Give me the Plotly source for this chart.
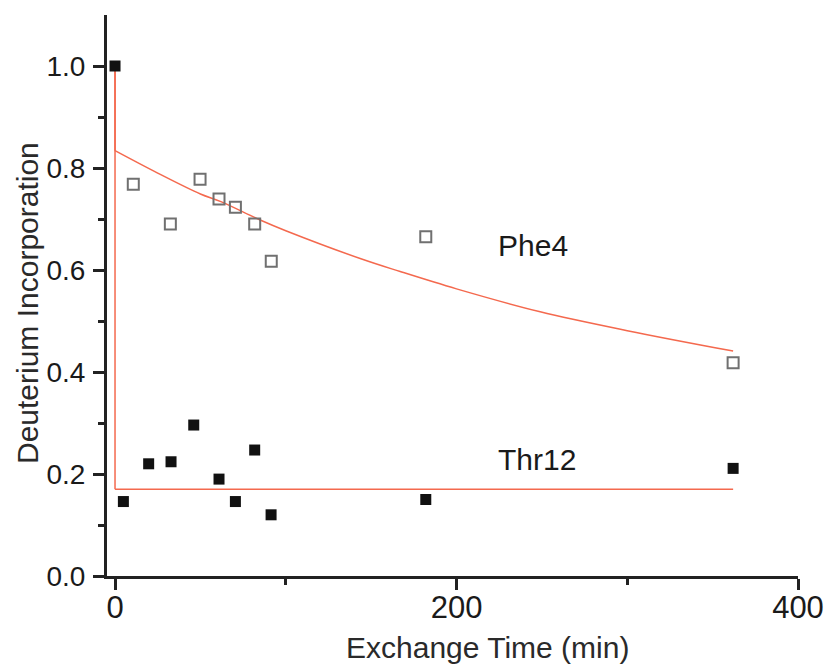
import plotly.graph_objects as go

# Shared starting point (t = 0, fully deuterated)
start_t = 0
start_v = 1.0

# Phe4 amide: exchange time (min) and deuterium incorporation
phe4_t = [10.7, 32.4, 49.8, 60.9, 70.5, 81.8, 91.5, 182, 362]
phe4_v = [0.768, 0.690, 0.778, 0.739, 0.723, 0.690, 0.617, 0.665, 0.418]

# Thr12 amide
thr12_t = [4.9, 19.7, 32.8, 46.1, 60.9, 70.5, 81.8, 91.4, 182, 362]
thr12_v = [0.146, 0.220, 0.224, 0.296, 0.190, 0.146, 0.247, 0.120, 0.150, 0.211]

# Fitted exchange curves
phe4_fit_t = [0, 25, 50, 62, 85, 100, 144, 167, 200, 249, 300, 362]
phe4_fit_v = [0.834, 0.790, 0.749, 0.734, 0.698, 0.677, 0.622, 0.597, 0.563, 0.518, 0.481, 0.441]
thr12_fit_t = [0, 362]
thr12_fit_v = [0.170, 0.170]

# Curve labels
labels = ["Phe4", "Thr12"]
label_t = [245, 247]
label_v = [0.648, 0.229]

FIT_COLOR = "#f4694e"
FONT = "Liberation Sans, Arial, sans-serif"

fig = go.Figure()

# burst phase: instantaneous drop at t = 0
for fv in (phe4_fit_v[0], thr12_fit_v[0]):
    fig.add_trace(go.Scatter(x=[start_t, start_t], y=[start_v, fv], mode="lines",
                             line=dict(color=FIT_COLOR, width=1.5), hoverinfo="skip"))

fig.add_trace(go.Scatter(x=phe4_fit_t, y=phe4_fit_v, mode="lines",
                         line=dict(color=FIT_COLOR, width=1.5, shape="spline"),
                         name="Phe4 fit"))
fig.add_trace(go.Scatter(x=thr12_fit_t, y=thr12_fit_v, mode="lines",
                         line=dict(color=FIT_COLOR, width=1.5), name="Thr12 fit"))

fig.add_trace(go.Scatter(x=phe4_t, y=phe4_v, mode="markers", name="Phe4",
                         marker=dict(symbol="square-open", size=11, color="#707070",
                                     line=dict(width=2, color="#707070"))))
fig.add_trace(go.Scatter(x=[start_t] + thr12_t, y=[start_v] + thr12_v, mode="markers",
                         name="Thr12",
                         marker=dict(symbol="square", size=11, color="#111111",
                                     line=dict(width=0))))

for txt, tx, ty in zip(labels, label_t, label_v):
    fig.add_annotation(x=tx, y=ty, text=txt, showarrow=False,
                       xanchor="center", yanchor="middle",
                       font=dict(family=FONT, size=30, color="#1a1a1a"))

# axis titles
fig.add_annotation(xref="paper", yref="paper", x=0.55, y=-0.128,
                   xanchor="center", yanchor="middle",
                   text="Exchange Time (min)", showarrow=False,
                   font=dict(family=FONT, size=30, color="#2a2a2a"))
fig.add_annotation(xref="paper", yref="paper", x=-0.114, y=0.487,
                   xanchor="center", yanchor="middle",
                   text="Deuterium Incorporation", showarrow=False, textangle=-90,
                   font=dict(family=FONT, size=30, color="#2a2a2a"))

axis_common = dict(
    showgrid=False, zeroline=False, showline=True, linecolor="#222222", linewidth=3,
    ticks="outside", ticklen=11, tickwidth=2.5, tickcolor="#222222", automargin=False,
)

fig.update_xaxes(range=[-4.7, 400], tickvals=[0, 200, 400], ticklabelstandoff=-9,
                 tickfont=dict(family=FONT, size=31, color="#1a1a1a"),
                 minor=dict(tickvals=[100, 300], ticks="outside", ticklen=6,
                            tickwidth=2.5, tickcolor="#222222"),
                 **axis_common)
fig.update_yaxes(range=[0, 1.1], tickvals=[0, 0.2, 0.4, 0.6, 0.8, 1.0],
                 ticktext=["0.0", "0.2", "0.4", "0.6", "0.8", "1.0"], ticklabelstandoff=2,
                 tickfont=dict(family=FONT, size=28, color="#1a1a1a"),
                 minor=dict(tickvals=[0.1, 0.3, 0.5, 0.7, 0.9], ticks="outside",
                            ticklen=6, tickwidth=2.5, tickcolor="#222222"),
                 **axis_common)

fig.update_layout(
    width=830, height=666,
    margin=dict(l=107, r=32, t=15, b=90),
    paper_bgcolor="white", plot_bgcolor="white",
    showlegend=False,
)

fig.write_html("out.html")
